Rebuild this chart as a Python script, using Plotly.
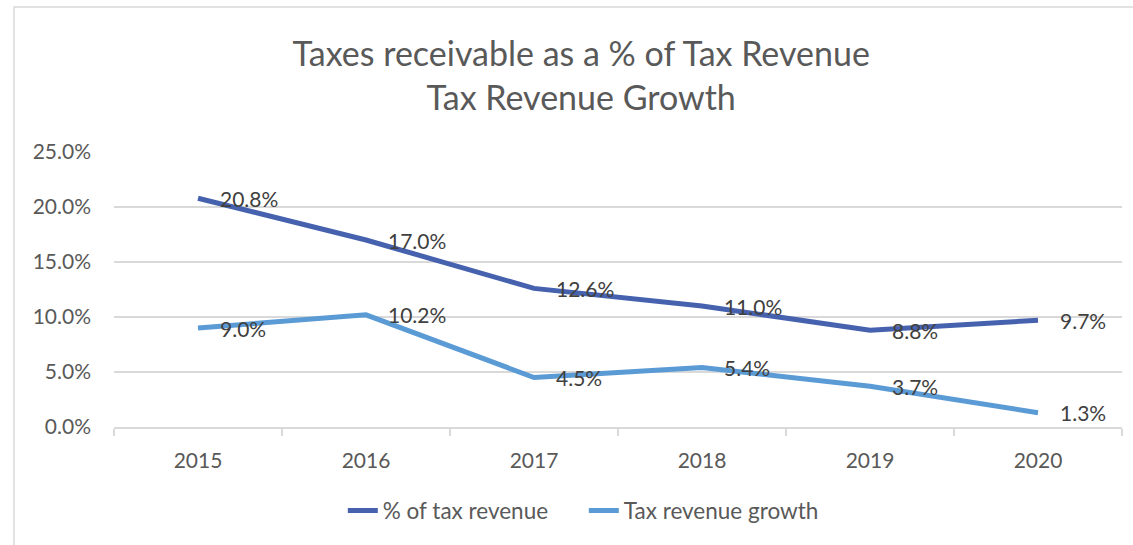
import plotly.graph_objects as go

# Chart data
years = ["2015", "2016", "2017", "2018", "2019", "2020"]
pct_of_tax_revenue = [20.8, 17.0, 12.6, 11.0, 8.8, 9.7]
tax_revenue_growth = [9.0, 10.2, 4.5, 5.4, 3.7, 1.3]
series_names = ["% of tax revenue", "Tax revenue growth"]
y_ticks = [0, 5, 10, 15, 20, 25]

DARK = "#4662AE"
LIGHT = "#5B9BD5"
TEXT = "#595959"
GRID = "#D9D9D9"
FONT = "Lato, Open Sans, sans-serif"

fig = go.Figure()
for name, vals, color in [(series_names[0], pct_of_tax_revenue, DARK),
                          (series_names[1], tax_revenue_growth, LIGHT)]:
    fig.add_trace(go.Scatter(
        x=years, y=[v / 100 for v in vals], mode="lines", name=name,
        line=dict(color=color, width=5), hoverinfo="skip",
    ))
    # data labels to the right of each point (x given as category index)
    for i, v in enumerate(vals):
        fig.add_annotation(
            x=i, y=v / 100, text=f"{v:.1f}%", showarrow=False,
            xanchor="left", yanchor="middle", xshift=20,
            font=dict(family=FONT, size=21, color="#404040"),
        )

# outer chart border
fig.add_shape(type="rect", xref="paper", yref="paper",
              x0=-0.0992, x1=1.02, y0=-0.46, y1=1.527,
              line=dict(color=GRID, width=1.5), fillcolor="rgba(0,0,0,0)")

fig.update_layout(
    width=1133, height=545,
    margin=dict(l=114, r=11, t=152, b=118),
    paper_bgcolor="white", plot_bgcolor="white",
    font=dict(family=FONT, size=21, color=TEXT),
    title=dict(
        text="Taxes receivable as a % of Tax Revenue<br>Tax Revenue Growth",
        x=0.513, xref="container", xanchor="center",
        y=1 - 66 / 545, yref="container", yanchor="middle",
        font=dict(family=FONT, size=34, color=TEXT),
    ),
    showlegend=True,
    legend=dict(
        orientation="h", x=0.227, xanchor="left", y=-0.305, yanchor="middle",
        font=dict(family=FONT, size=22.5, color=TEXT),
        entrywidth=196, entrywidthmode="pixels",
    ),
    xaxis=dict(
        type="category", range=[-0.5, 5.5], showgrid=False,
        showline=True, linecolor=GRID, linewidth=1.5,
        ticks="outside", tickson="boundaries", ticklen=7, tickcolor=GRID,
        tickwidth=1.5, ticklabelstandoff=14, tickfont=dict(size=21, color=TEXT),
    ),
    yaxis=dict(
        range=[0, 0.25], tickvals=[t / 100 for t in y_ticks], tickformat=".1%",
        showgrid=True, gridcolor=GRID, gridwidth=1.5, zeroline=False,
        showline=False, ticks="", ticklabelstandoff=22,
        tickfont=dict(size=21, color=TEXT),
    ),
)

fig.write_html("out.html")
